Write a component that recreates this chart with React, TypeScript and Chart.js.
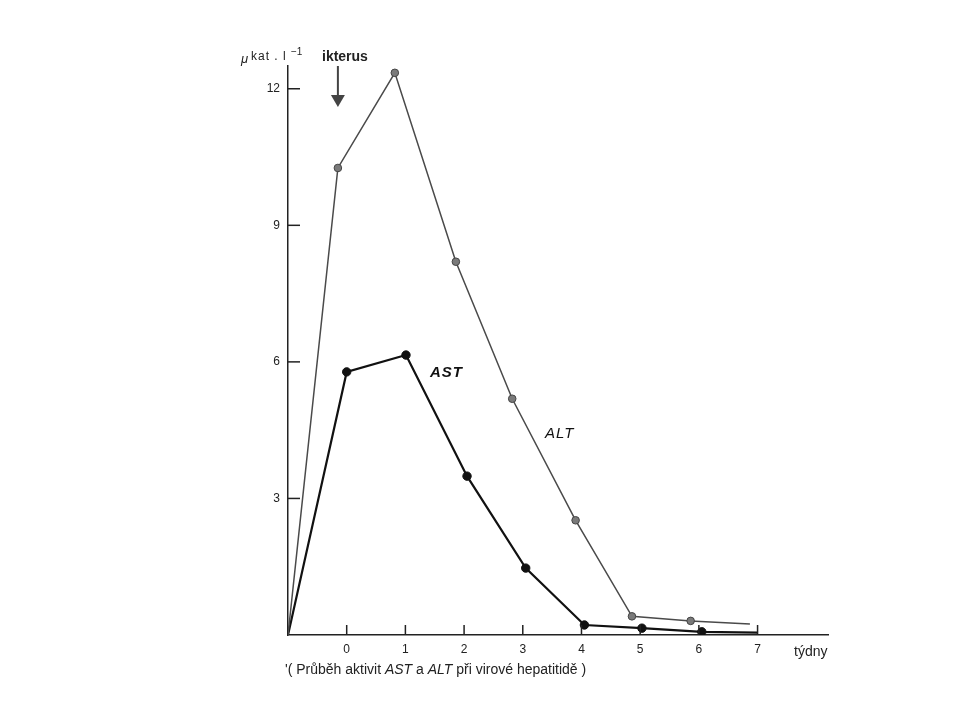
import React, { useEffect, useRef } from "react";
import { Chart, registerables } from "chart.js";

Chart.register(...registerables);

// ---- data ----
const weekTicks = [0, 1, 2, 3, 4, 5, 6, 7];
const valueTicks = [3, 6, 9, 12];

const altWeeks = [-1, -0.15, 0.82, 1.86, 2.82, 3.9, 4.86, 5.86, 6.87];
const altValues = [0, 10.26, 12.35, 8.2, 5.19, 2.52, 0.41, 0.31, 0.24];

const astWeeks = [-1, 0, 1.01, 2.05, 3.05, 4.05, 5.03, 6.05, 7.0];
const astValues = [0, 5.78, 6.15, 3.49, 1.47, 0.22, 0.15, 0.07, 0.05];

const ikterusWeek = -0.15;
const xMin = -1;
const xMax = 8.2;
const yMax = 12.5;

const FONT = "'Liberation Sans', Arial, Helvetica, sans-serif";

const decorPlugin = {
  id: "decor",
  afterDraw(chart: any) {
    const ctx = chart.ctx as CanvasRenderingContext2D;
    const xs = chart.scales.x;
    const ys = chart.scales.y;
    const x0 = xs.getPixelForValue(xMin);
    const y0 = ys.getPixelForValue(0);
    ctx.save();
    ctx.strokeStyle = "#222";
    ctx.lineWidth = 1.5;
    // x tick marks (pointing up)
    weekTicks.forEach((w) => {
      const px = xs.getPixelForValue(w);
      ctx.beginPath();
      ctx.moveTo(px, y0);
      ctx.lineTo(px, y0 - 10);
      ctx.stroke();
    });
    // y tick marks (pointing right)
    valueTicks.forEach((v) => {
      const py = ys.getPixelForValue(v);
      ctx.beginPath();
      ctx.moveTo(x0, py);
      ctx.lineTo(x0 + 12, py);
      ctx.stroke();
    });

    // unit title
    ctx.fillStyle = "#222";
    ctx.textBaseline = "middle";
    ctx.textAlign = "left";
    ctx.font = `italic 13px ${FONT}`;
    ctx.fillText("μ", 241, 59);
    (ctx as any).letterSpacing = "1px";
    ctx.font = `12px ${FONT}`;
    ctx.fillText("kat . l", 251, 57);
    (ctx as any).letterSpacing = "0px";
    ctx.font = `10px ${FONT}`;
    ctx.fillText("−1", 291, 52);

    // ikterus + arrow
    ctx.font = `bold 14px ${FONT}`;
    ctx.fillText("ikterus", 322, 57);
    const ax = xs.getPixelForValue(ikterusWeek);
    ctx.strokeStyle = "#444";
    ctx.lineWidth = 2;
    ctx.beginPath();
    ctx.moveTo(ax, 66);
    ctx.lineTo(ax, 97);
    ctx.stroke();
    ctx.fillStyle = "#444";
    ctx.beginPath();
    ctx.moveTo(ax - 7, 95);
    ctx.lineTo(ax + 7, 95);
    ctx.lineTo(ax, 107);
    ctx.closePath();
    ctx.fill();

    // series labels
    ctx.fillStyle = "#111";
    ctx.font = `bold italic 15px ${FONT}`;
    (ctx as any).letterSpacing = "1px";
    ctx.fillText("AST", 430, 373);
    ctx.font = `italic 15px ${FONT}`;
    ctx.fillText("ALT", 545, 434);
    (ctx as any).letterSpacing = "0px";

    // x unit
    ctx.fillStyle = "#222";
    ctx.font = `14px ${FONT}`;
    ctx.fillText("týdny", 794, 652);

    // caption
    let cx = 285;
    const cy = 670;
    const parts: [string, boolean][] = [
      ["'( Průběh aktivit ", false],
      ["AST", true],
      [" a ", false],
      ["ALT", true],
      [" při virové hepatitidě )", false],
    ];
    parts.forEach(([t, it]) => {
      ctx.font = `${it ? "italic " : ""}14px ${FONT}`;
      ctx.fillText(t, cx, cy);
      cx += ctx.measureText(t).width;
    });
    ctx.restore();
  },
};

export default function App() {
  const ref = useRef<HTMLCanvasElement>(null);

  useEffect(() => {
    if (!ref.current) return;
    const chart = new Chart(ref.current, {
      type: "line",
      data: {
        datasets: [
          {
            label: "ALT",
            data: altWeeks.map((w, i) => ({ x: w, y: altValues[i] })),
            borderColor: "#4a4a4a",
            borderWidth: 1.5,
            backgroundColor: "#7a7a7a",
            pointBorderColor: "#444",
            pointBorderWidth: 1,
            pointRadius: altWeeks.map((_, i) => (i === 0 || i === altWeeks.length - 1 ? 0 : 3.8)),
            tension: 0,
          },
          {
            label: "AST",
            data: astWeeks.map((w, i) => ({ x: w, y: astValues[i] })),
            borderColor: "#111",
            borderWidth: 2.2,
            backgroundColor: "#111",
            pointBorderColor: "#111",
            pointBorderWidth: 1,
            pointRadius: astWeeks.map((_, i) => (i === 0 || i === astWeeks.length - 1 ? 0 : 4.2)),
            tension: 0,
          },
        ],
      },
      options: {
        animation: false,
        responsive: false,
        maintainAspectRatio: false,
        layout: { padding: { left: 248, top: 66, right: 132, bottom: 55 } },
        plugins: {
          legend: { display: false },
          tooltip: { enabled: false },
          title: { display: false },
        },
        scales: {
          x: {
            type: "linear",
            min: xMin,
            max: xMax,
            grid: { display: false, drawTicks: false },
            border: { display: true, color: "#222", width: 1.5 },
            ticks: {
              autoSkip: false,
              padding: 7,
              color: "#222",
              font: { family: FONT, size: 12 },
              callback: (v: any) => String(v),
            },
            afterBuildTicks: (scale: any) => {
              scale.ticks = weekTicks.map((v) => ({ value: v }));
            },
            afterFit: (scale: any) => {
              scale.height = 30;
            },
          },
          y: {
            type: "linear",
            min: 0,
            max: yMax,
            grid: { display: false, drawTicks: false },
            border: { display: true, color: "#222", width: 1.5 },
            ticks: {
              padding: 8,
              color: "#222",
              font: { family: FONT, size: 12 },
              callback: (v: any) => String(v),
            },
            afterBuildTicks: (scale: any) => {
              scale.ticks = valueTicks.map((v) => ({ value: v }));
            },
            afterFit: (scale: any) => {
              scale.width = 40;
            },
          },
        },
      },
      plugins: [decorPlugin],
    });
    return () => chart.destroy();
  }, []);

  return (
    <div style={{ position: "fixed", left: 0, top: 0, width: 960, height: 720, background: "#fff" }}>
      <canvas ref={ref} width={960} height={720} style={{ width: 960, height: 720, display: "block" }} />
    </div>
  );
}
